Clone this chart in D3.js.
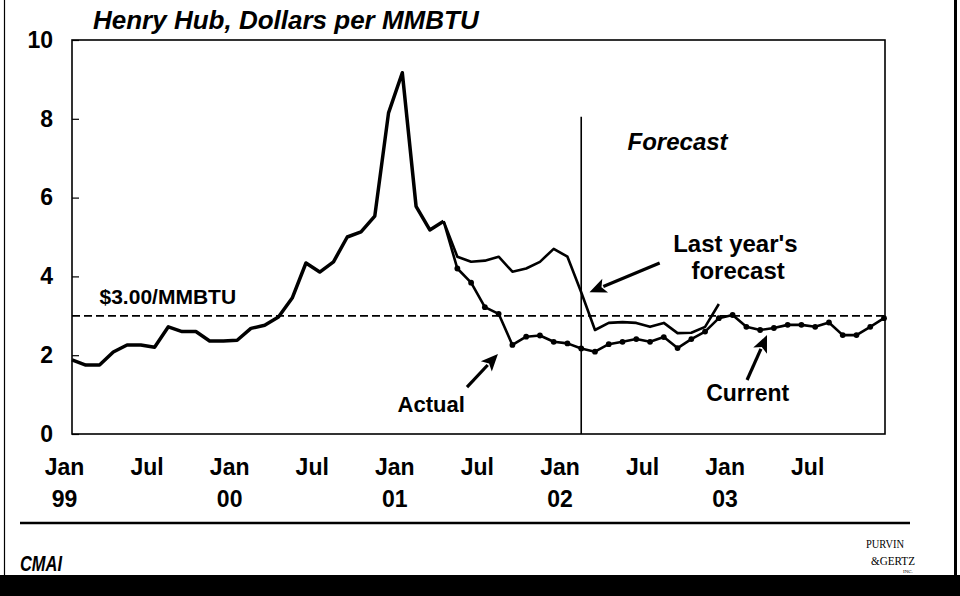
<!DOCTYPE html>
<meta charset="utf-8">
<style>
  body { margin: 0; background: #fff; }
  text { font-family: "Liberation Sans", Arial, sans-serif; font-weight: bold; fill: #000; }
  .line { fill: none; stroke: #000; stroke-linejoin: round; }
</style>
<script src="https://d3js.org/d3.v7.min.js"></script>
<body>
<div id="chart"></div>
<script>
// monthly Henry Hub price, month 0 = Jan 99
var pastStart = 0;
var pastPrices = [1.88, 1.75, 1.75, 2.08, 2.26, 2.26, 2.2, 2.72, 2.6, 2.6, 2.36, 2.36,
                  2.38, 2.68, 2.76, 2.97, 3.45, 4.34, 4.11, 4.37, 5.0, 5.13, 5.53, 8.15,
                  9.17, 5.78, 5.18, 5.4];

var lastYearStart = 27;
var lastYearPrices = [5.4, 4.5, 4.37, 4.4, 4.5, 4.12, 4.2, 4.37, 4.7, 4.5, 3.6,
                      2.64, 2.82, 2.84, 2.82, 2.72, 2.82, 2.56, 2.57, 2.72, 3.3];

var currentStart = 27;
var currentPrices = [5.4, 4.2, 3.84, 3.22, 3.05, 2.26, 2.47, 2.5, 2.34, 2.3, 2.17, 2.09,
                     2.28, 2.34, 2.41, 2.34, 2.46, 2.18, 2.41, 2.6, 2.94,
                     3.02, 2.72, 2.64, 2.69, 2.77, 2.77, 2.72, 2.83, 2.51, 2.51, 2.72, 2.94];

var forecastMonth = 37;
var forecastTop = 8.05;
var refPrice = 3;

var tickMonths = [0, 6, 12, 18, 24, 30, 36, 42, 48, 54];
var tickNames = ["Jan", "Jul", "Jan", "Jul", "Jan", "Jul", "Jan", "Jul", "Jan", "Jul"];
var tickYears = ["99", "", "00", "", "01", "", "02", "", "03", ""];
var yTicks = [0, 2, 4, 6, 8, 10];

// annotation text: [label, month, value, anchor, size, style]
var labels = [
    ["$3.00/MMBTU", 2.0, 3.3, "start", 21, "normal"],
    ["Forecast", 44.0, 7.2, "middle", 24, "italic"],
    ["Last year's", 48.2, 4.62, "middle", 24, "normal"],
    ["forecast", 48.4, 3.93, "middle", 24, "normal"],
    ["Actual", 26.1, 0.56, "middle", 22, "normal"],
    ["Current", 49.1, 0.84, "middle", 23, "normal"]
];
// arrows: [tail month, tail value, tip month, tip value]
var arrows = [
    [42.7, 4.34, 37.6, 3.6],
    [28.7, 1.19, 30.95, 2.03],
    [49.05, 1.37, 50.5, 2.51]
];

var svg = d3.select("#chart")
    .append("svg")
    .attr("width", 960)
    .attr("height", 596);

var margin = {top: 40, left: 72},
    width = 813,
    height = 394;

var x = d3.scaleLinear().domain([0, 59]).range([0, 812]);
var y = d3.scaleLinear().domain([0, 10]).range([height, 0]);

// page frame
svg.append("line").attr("x1", 4.5).attr("x2", 4.5).attr("y1", 0).attr("y2", 575)
    .attr("stroke", "#000").attr("stroke-width", 1.2);
svg.append("rect").attr("x", 954).attr("y", 0).attr("width", 3).attr("height", 596).attr("fill", "#000");
svg.append("rect").attr("x", 0).attr("y", 575).attr("width", 960).attr("height", 21).attr("fill", "#000");
svg.append("line").attr("x1", 20).attr("x2", 910).attr("y1", 523).attr("y2", 523)
    .attr("stroke", "#000").attr("stroke-width", 2.5);

svg.append("text")
    .attr("x", 93).attr("y", 29)
    .style("font-size", "26px").style("font-style", "italic")
    .text("Henry Hub, Dollars per MMBTU");

var g = svg.append("g")
    .attr("transform", "translate(" + margin.left + "," + margin.top + ")");

g.append("rect")
    .attr("width", width).attr("height", height)
    .attr("fill", "none").attr("stroke", "#000").attr("stroke-width", 1.6);

var yAxis = d3.axisLeft(y).tickValues(yTicks).tickSizeInner(-7).tickSizeOuter(0).tickPadding(19);
var ya = g.append("g").call(yAxis);
ya.select(".domain").remove();
ya.selectAll("line").attr("stroke-width", 1.2);
ya.selectAll("text").style("font-size", "23px").attr("font-family", null);

var xAxis = d3.axisBottom(x).tickValues(tickMonths).tickSize(0).tickFormat("");
var xa = g.append("g").attr("transform", "translate(0," + height + ")").call(xAxis);
xa.select(".domain").remove();
xa.selectAll(".tick text").each(function(d, i) {
    var t = d3.select(this).attr("y", 0).attr("dy", null).attr("font-family", null)
        .style("font-size", "23px").attr("text-anchor", "middle");
    t.append("tspan").attr("x", -8).attr("y", 41).text(tickNames[i]);
    t.append("tspan").attr("x", -8).attr("y", 73).text(tickYears[i]);
});

// $3 reference line
g.append("line")
    .attr("x1", 0).attr("x2", width)
    .attr("y1", y(refPrice)).attr("y2", y(refPrice))
    .attr("stroke", "#000").attr("stroke-width", 1.7)
    .attr("stroke-dasharray", "8,4");

// forecast divider
g.append("line")
    .attr("x1", x(forecastMonth)).attr("x2", x(forecastMonth))
    .attr("y1", y(forecastTop)).attr("y2", y(0))
    .attr("stroke", "#000").attr("stroke-width", 1.6);

function series(values, start) {
    return values.map(function(v, i) { return {m: start + i, v: v}; });
}

var line = d3.line()
    .x(function(d) { return x(d.m); })
    .y(function(d) { return y(d.v); });

g.append("path").datum(series(lastYearPrices, lastYearStart))
    .attr("class", "line").attr("stroke-width", 2.6).attr("d", line);

var cur = series(currentPrices, currentStart);
g.append("path").datum(cur)
    .attr("class", "line").attr("stroke-width", 2.6).attr("d", line);

g.selectAll(".dot").data(cur.slice(1)).enter().append("circle")
    .attr("class", "dot")
    .attr("cx", function(d) { return x(d.m); })
    .attr("cy", function(d) { return y(d.v); })
    .attr("r", 2.9);

g.append("path").datum(series(pastPrices, pastStart))
    .attr("class", "line").attr("stroke-width", 3.5).attr("d", line);

// annotations
labels.forEach(function(l) {
    g.append("text")
        .attr("x", x(l[1])).attr("y", y(l[2]))
        .attr("text-anchor", l[3])
        .style("font-size", l[4] + "px")
        .style("font-style", l[5])
        .text(l[0]);
});

arrows.forEach(function(a) {
    var x0 = x(a[0]), y0 = y(a[1]), x1 = x(a[2]), y1 = y(a[3]);
    var dx = x1 - x0, dy = y1 - y0, len = Math.sqrt(dx * dx + dy * dy);
    var ux = dx / len, uy = dy / len, hl = 17, hw = 7.5;
    var bx = x1 - ux * hl, by = y1 - uy * hl;
    g.append("line")
        .attr("x1", x0).attr("y1", y0).attr("x2", bx + ux * 2).attr("y2", by + uy * 2)
        .attr("stroke", "#000").attr("stroke-width", 3.2);
    g.append("path")
        .attr("d", "M" + x1 + "," + y1 +
            "L" + (bx - uy * hw) + "," + (by + ux * hw) +
            "L" + (bx + ux * 4) + "," + (by + uy * 4) +
            "L" + (bx + uy * hw) + "," + (by - ux * hw) + "Z")
        .attr("fill", "#000");
});

// footer logos
svg.append("text")
    .attr("x", 20).attr("y", 571)
    .attr("textLength", 42).attr("lengthAdjust", "spacingAndGlyphs")
    .style("font-size", "22px").style("font-style", "italic")
    .text("CMAI");

var serif = "'Liberation Serif', serif";
svg.append("text").attr("x", 866).attr("y", 548)
    .attr("textLength", 38).attr("lengthAdjust", "spacingAndGlyphs")
    .style("font-size", "12px").style("font-weight", "normal").style("font-family", serif)
    .text("PURVIN");
svg.append("text").attr("x", 871).attr("y", 565)
    .attr("textLength", 44).attr("lengthAdjust", "spacingAndGlyphs")
    .style("font-size", "13px").style("font-weight", "normal").style("font-family", serif)
    .text("&GERTZ");
svg.append("text").attr("x", 903).attr("y", 573)
    .style("font-size", "5px").style("font-weight", "normal").style("font-family", serif)
    .text("INC.");
</script>
</body>
